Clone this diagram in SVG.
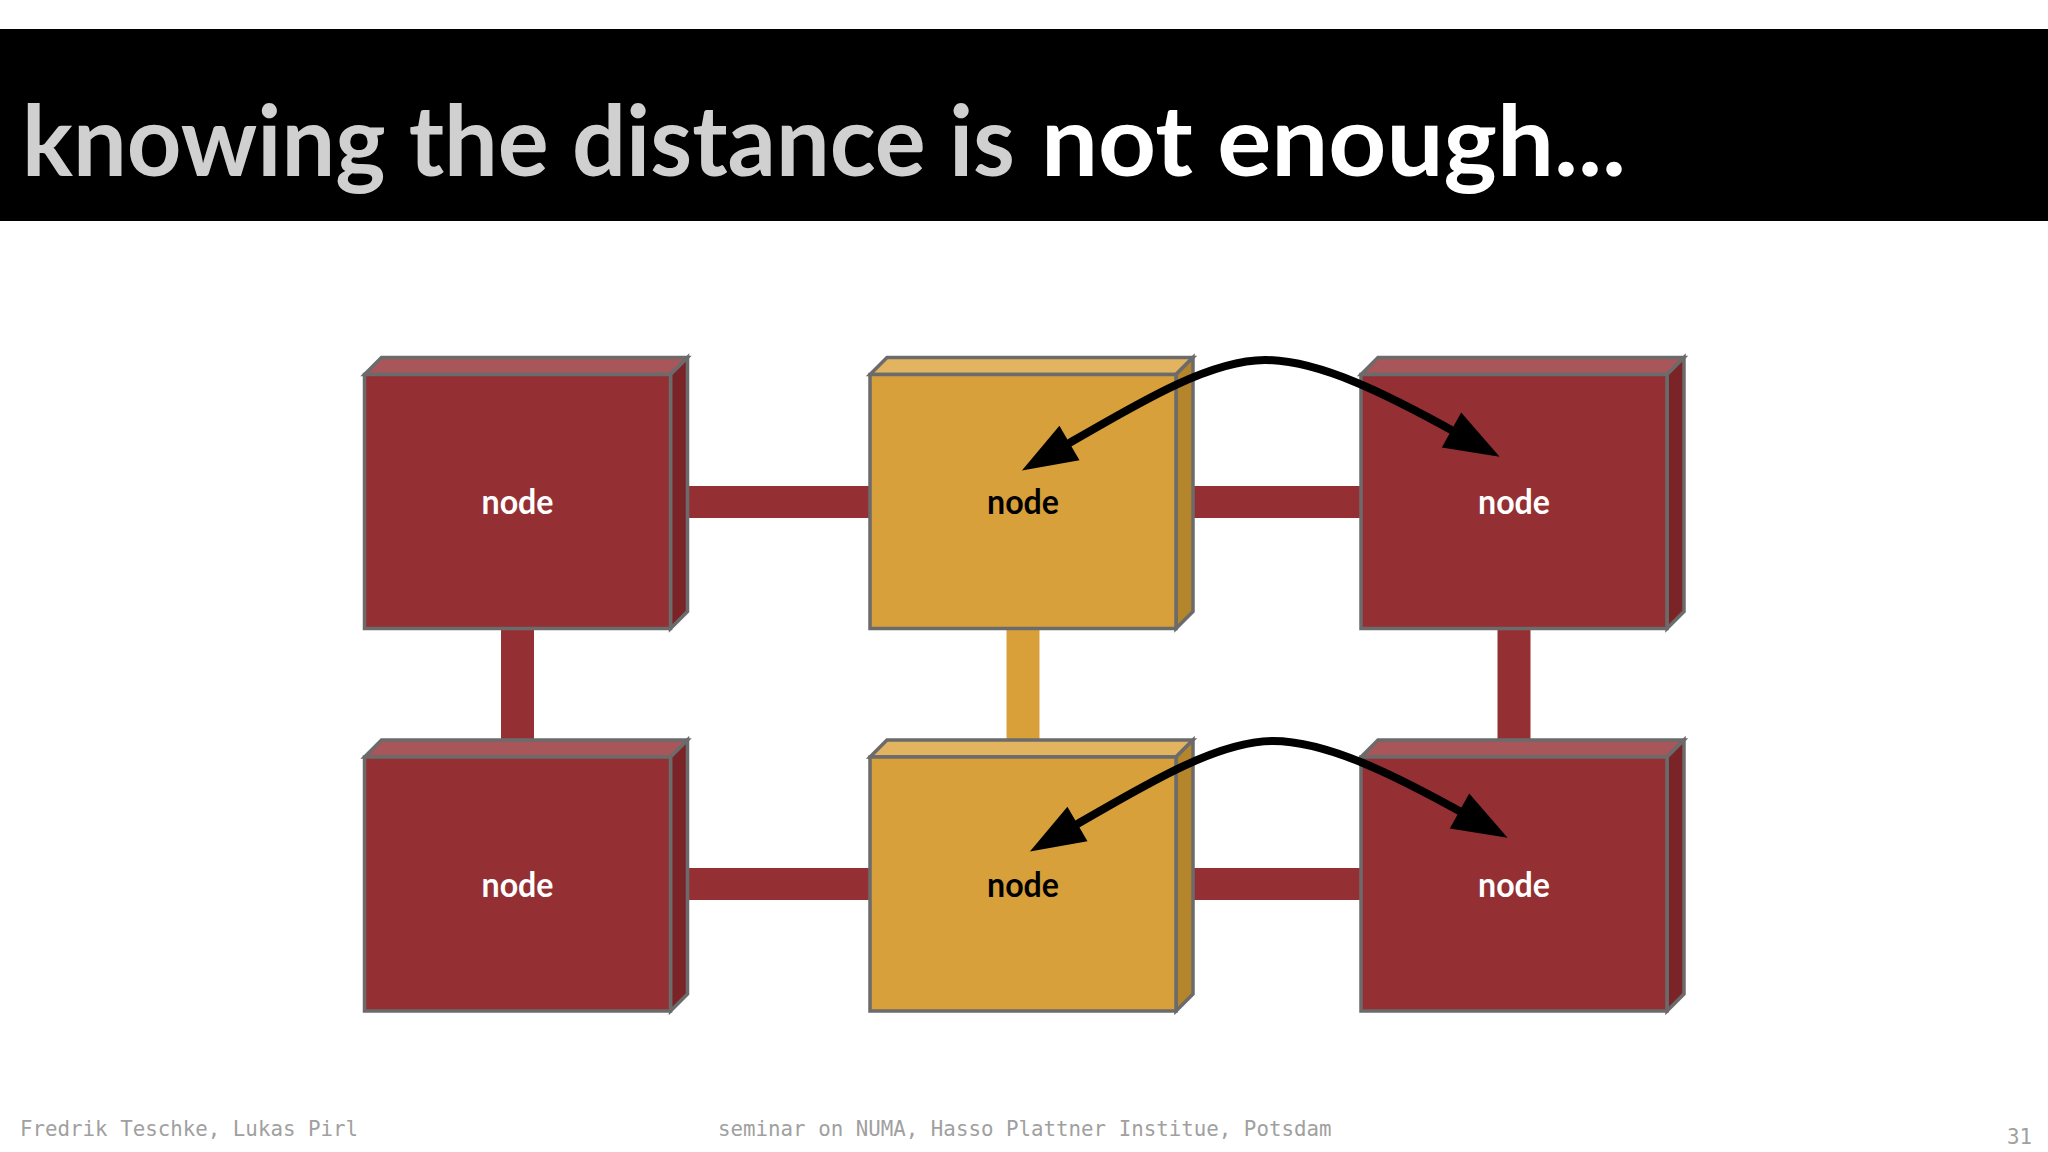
<svg xmlns="http://www.w3.org/2000/svg" xmlns:xlink="http://www.w3.org/1999/xlink" width="2048" height="1152" viewBox="0 0 2048 1152">
<style>
.box path, .box rect { stroke: #6b6b6b; stroke-width: 3.5; stroke-linejoin: miter; }
.red .front { fill: #942f33; } .red .top { fill: #a9565a; } .red .side { fill: #7b2428; }
.gold .front { fill: #d8a03b; } .gold .top { fill: #e2b45f; } .gold .side { fill: #b5852c; }
.lbl { font-family: Lato, "Liberation Sans", sans-serif; font-weight: 700; font-size: 34px; text-anchor: middle; }
.lbl.w { fill: #ffffff; } .lbl.k { fill: #000000; }
.title { font-family: Lato, "Liberation Sans", sans-serif; font-weight: 700; font-size: 98px; }
.link-red { fill: #943034; } .link-gold { fill: #d9a03a; }
.arc { fill: none; stroke: #000; stroke-width: 8; marker-start: url(#head); marker-end: url(#head); }
.foot { font-family: "DejaVu Sans Mono", "Liberation Mono", monospace; font-size: 20.8px; fill: #a0a0a0; }
</style>
<defs>
<marker id="head" markerUnits="userSpaceOnUse" orient="auto-start-reverse" markerWidth="60" markerHeight="44" refX="4" refY="0" viewBox="0 -22 60 44" overflow="visible">
<path d="M0,-20 L55,0 L0,20 Z" fill="#000"/>
</marker>
<g id="redBox" class="box red">
<path class="top" d="M0,0 L17,-17 L323,-17 L306,0 Z"/>
<path class="side" d="M306,0 L323,-17 L323,237 L306,254 Z"/>
<rect class="front" x="0" y="0" width="306" height="254"/>
</g>
<g id="goldBox" class="box gold">
<path class="top" d="M0,0 L17,-17 L323,-17 L306,0 Z"/>
<path class="side" d="M306,0 L323,-17 L323,237 L306,254 Z"/>
<rect class="front" x="0" y="0" width="306" height="254"/>
</g>
</defs>
<rect x="0" y="0" width="2048" height="1152" fill="#ffffff"/>
<rect x="0" y="29" width="2048" height="192" fill="#000000"/>
<text class="title" x="22" y="176" fill="#d0d0d0" textLength="993" lengthAdjust="spacingAndGlyphs">knowing the distance is</text>
<text class="title" x="1041" y="176" fill="#ffffff" textLength="585" lengthAdjust="spacingAndGlyphs">not enough...</text>
<g id="links">
<rect class="link-red" x="680" y="486" width="200" height="32"/>
<rect class="link-red" x="1185" y="486" width="186" height="32"/>
<rect class="link-red" x="680" y="868" width="200" height="32"/>
<rect class="link-red" x="1185" y="868" width="186" height="32"/>
<rect class="link-red" x="501" y="620" width="33" height="145"/>
<rect class="link-gold" x="1006.5" y="620" width="33" height="145"/>
<rect class="link-red" x="1497.5" y="620" width="33" height="145"/>
</g>
<g id="node1"><use xlink:href="#redBox" x="364.5" y="374.5"/><text class="lbl w" x="517.5" y="514" textLength="72" lengthAdjust="spacingAndGlyphs">node</text></g>
<g id="node2"><use xlink:href="#goldBox" x="870" y="374.5"/><text class="lbl k" x="1023" y="514" textLength="72" lengthAdjust="spacingAndGlyphs">node</text></g>
<g id="node3"><use xlink:href="#redBox" x="1361" y="374.5"/><text class="lbl w" x="1514" y="514" textLength="72" lengthAdjust="spacingAndGlyphs">node</text></g>
<g id="node4"><use xlink:href="#redBox" x="364.5" y="757"/><text class="lbl w" x="517.5" y="896.5" textLength="72" lengthAdjust="spacingAndGlyphs">node</text></g>
<g id="node5"><use xlink:href="#goldBox" x="870" y="757"/><text class="lbl k" x="1023" y="896.5" textLength="72" lengthAdjust="spacingAndGlyphs">node</text></g>
<g id="node6"><use xlink:href="#redBox" x="1361" y="757"/><text class="lbl w" x="1514" y="896.5" textLength="72" lengthAdjust="spacingAndGlyphs">node</text></g>
<g id="connectors">
<path class="arc" d="M1066,445 C1140,402 1210,360 1265,360 C1320,360 1390,396 1455,432"/>
<path class="arc" d="M1074,826 C1148,783 1218,741 1273,741 C1328,741 1398,777 1463,813"/>
</g>
<text class="foot" x="20" y="1136">Fredrik Teschke, Lukas Pirl</text>
<text class="foot" x="718" y="1136">seminar on NUMA, Hasso Plattner Institue, Potsdam</text>
<text class="foot" x="2007" y="1144" fill="#c0c0c0">31</text>
</svg>
